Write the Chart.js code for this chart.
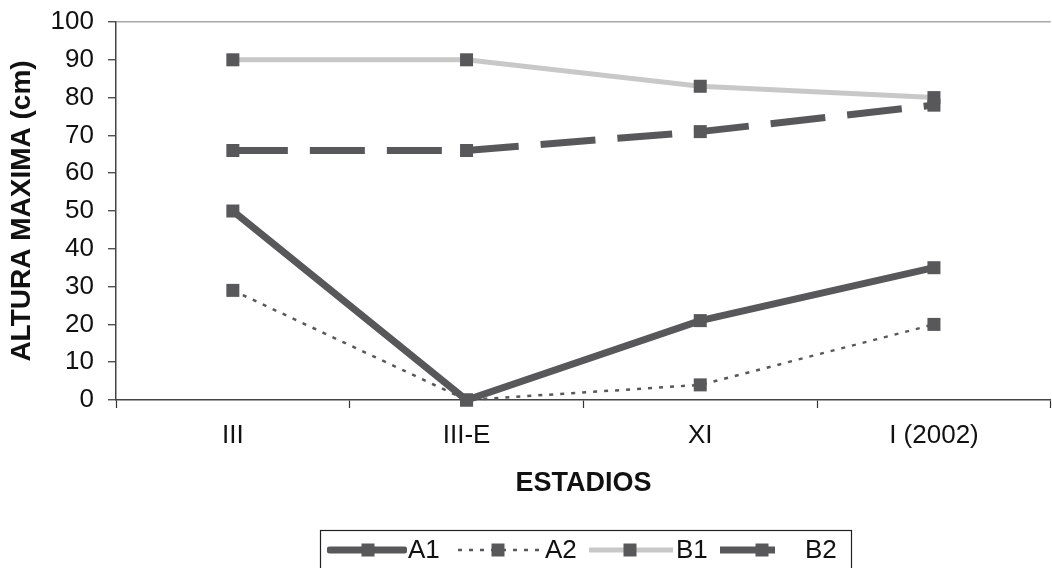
<!DOCTYPE html>
<html>
<head>
<meta charset="utf-8">
<script src="https://cdn.jsdelivr.net/npm/chart.js@4.4.1/dist/chart.umd.min.js"></script>
<style>
  html, body { margin: 0; padding: 0; background: #fff; overflow: hidden; }
  #wrap { width: 1060px; height: 568px; }
</style>
</head>
<body>
<div id="wrap"><canvas id="c" width="1060" height="568"></canvas></div>
<script>
const categories = ['III', 'III-E', 'XI', 'I (2002)'];
const seriesNames = ['A1', 'A2', 'B1', 'B2'];
const A1 = [50, 0, 21, 35];
const A2 = [29, 0, 4, 20];
const B1 = [90, 90, 83, 80];
const B2 = [66, 66, 71, 78];
const yTicks = [0, 10, 20, 30, 40, 50, 60, 70, 80, 90, 100];
const yTitle = 'ALTURA MAXIMA (cm)';
const xTitle = 'ESTADIOS';

const DARK = '#58585a';
const FONT = "'Liberation Sans', Arial, sans-serif";

const styles = [
  { borderColor: DARK, borderWidth: 7, borderDash: [] },
  { borderColor: DARK, borderWidth: 2.5, borderDash: [4, 7] },
  { borderColor: '#c8c8c8', borderWidth: 5, borderDash: [] },
  { borderColor: DARK, borderWidth: 7, borderDash: [55, 22] }
];
const values = [A1, A2, B1, B2];

const datasets = values.map((v, i) => ({
  label: seriesNames[i],
  data: v,
  borderColor: styles[i].borderColor,
  borderWidth: styles[i].borderWidth,
  borderDash: styles[i].borderDash,
  borderCapStyle: 'butt',
  borderJoinStyle: 'miter',
  tension: 0,
  fill: false,
  pointStyle: 'rect',
  pointRadius: 9.2,
  pointBackgroundColor: DARK,
  pointBorderColor: DARK,
  pointBorderWidth: 0,
  clip: false
}));

const legendItems = [
  { x1: 327, x2: 407, mx: 368, tx: 408 },
  { x1: 458, x2: 545, mx: 498, tx: 545 },
  { x1: 589, x2: 673, mx: 630, tx: 676 },
  { x1: 720, x2: 800, mx: 762, tx: 805 }
];

const legendPlugin = {
  id: 'customLegend',
  afterDraw(chart) {
    const ctx = chart.ctx;
    ctx.save();
    ctx.strokeStyle = '#222';
    ctx.lineWidth = 1.2;
    ctx.strokeRect(320.5, 530.5, 531, 50);
    const y = 550;
    chart.data.datasets.forEach((ds, i) => {
      const it = legendItems[i];
      ctx.save();
      ctx.beginPath();
      ctx.rect(it.x1, y - 10, it.x2 - it.x1, 20);
      ctx.clip();
      ctx.strokeStyle = ds.borderColor;
      ctx.lineWidth = ds.borderWidth;
      ctx.setLineDash(i === 3 ? [55, 30] : ds.borderDash);
      ctx.lineCap = i === 0 ? 'round' : 'butt';
      ctx.beginPath();
      ctx.moveTo(it.x1 + (i === 0 ? 3 : 0), y);
      ctx.lineTo(it.x2 - (i === 0 ? 3 : 0), y);
      ctx.stroke();
      ctx.restore();
      ctx.fillStyle = DARK;
      ctx.fillRect(it.mx - 6.5, y - 6.5, 13, 13);
      ctx.fillStyle = '#111';
      ctx.font = '26px ' + FONT;
      ctx.textBaseline = 'middle';
      ctx.textAlign = 'left';
      ctx.fillText(ds.label, it.tx, y + 1);
    });
    ctx.restore();
  }
};

new Chart(document.getElementById('c'), {
  type: 'line',
  data: { labels: categories, datasets: datasets },
  options: {
    responsive: false,
    devicePixelRatio: 1,
    animation: false,
    layout: { padding: { top: 22, right: 4, left: 0, bottom: 0 } },
    plugins: { legend: { display: false }, tooltip: { enabled: false } },
    scales: {
      x: {
        type: 'category',
        offset: true,
        grid: { offset: true, drawOnChartArea: false, tickLength: 8, tickColor: '#333', tickWidth: 1.2 },
        border: { display: true, color: '#444', width: 1.5 },
        ticks: { color: '#111', font: { family: FONT, size: 26 }, padding: 12, maxRotation: 0 },
        title: { display: true, text: xTitle, color: '#111', font: { family: FONT, size: 27, weight: 'bold' }, padding: { top: 0, bottom: 68 } },
        afterFit(s) { s.height = 168; s.paddingLeft = 0; s.paddingRight = 0; }
      },
      y: {
        min: 0, max: 100,
        afterBuildTicks(s) { s.ticks = yTicks.map(v => ({ value: v })); },
        grid: {
          color: c => (c.tick && c.tick.value === 100) ? '#a8a8a8' : 'rgba(0,0,0,0)',
          lineWidth: 1.5,
          tickLength: 8, tickColor: '#333', tickWidth: 1.2
        },
        border: { display: true, color: '#444', width: 1.5 },
        ticks: { color: '#111', font: { family: FONT, size: 26 }, padding: 14 },
        title: { display: true, text: yTitle, color: '#111', font: { family: FONT, size: 28, weight: 'bold' }, padding: { top: 5, bottom: 0 } },
        afterFit(s) { s.width = 116; s.paddingTop = 0; s.paddingBottom = 0; }
      }
    }
  },
  plugins: [legendPlugin]
});
</script>
</body>
</html>
